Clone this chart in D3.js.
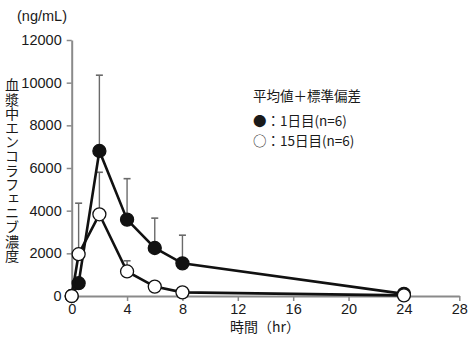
<!DOCTYPE html>
<html><head><meta charset="utf-8">
<script src="https://cdn.jsdelivr.net/npm/d3@7"></script>
<style>
body{margin:0;background:#fff;}
text.lat{font-family:"Liberation Sans",Arial,sans-serif;fill:#1a1a1a;}
text.jp{font-family:"Noto Sans CJK JP",sans-serif;fill:#1a1a1a;}
</style></head><body>
<svg id="chart" width="470" height="347"></svg>
<script>
// Plasma concentration over time (mean + SD)
const times = [0, 0.5, 2, 4, 6, 8, 24];
const day1Mean = [0, 600, 6800, 3580, 2250, 1530, 100];
const day1Upper = [null, null, 10350, 5500, 3650, 2850, null];
const day15Mean = [0, 1960, 3830, 1150, 440, 170, 30];
const day15Upper = [null, 4350, 5800, 1650, null, null, null];
const xTicks = [0, 4, 8, 12, 16, 20, 24, 28];
const yTicks = [0, 2000, 4000, 6000, 8000, 10000, 12000];
const yTitle = "血漿中エンコラフェニブ濃度";
const legendTitle = "平均値＋標準偏差";
const legendLabels = ["●：1日目(n=6)", "○：15日目(n=6)"];

const svg = d3.select("#chart");
const x = d3.scaleLinear().domain([0, 28]).range([71.7, 459.3]);
const y = d3.scaleLinear().domain([0, 12000]).range([296, 40]);
const axisColor = "#8a8a8a";

// axes
const gx = svg.append("g").attr("transform", `translate(0,${y(0)})`)
  .call(d3.axisBottom(x).tickValues(xTicks).tickFormat(d3.format("d"))
    .tickSize(5).tickSizeOuter(0).tickPadding(3));
const gy = svg.append("g").attr("transform", `translate(${x(0)},0)`)
  .call(d3.axisLeft(y).tickValues(yTicks).tickFormat(d3.format("d"))
    .tickSize(5).tickSizeOuter(0).tickPadding(5));
[gx, gy].forEach(g => {
  g.select(".domain").attr("stroke", axisColor).attr("stroke-width", 2);
  g.selectAll(".tick line").attr("stroke", axisColor).attr("stroke-width", 1.5);
  g.selectAll(".tick text").attr("class", "lat").attr("font-size", 14.5);
});

// error bars
function errorBars(upper, mean) {
  const data = times.map((t, i) => ({t, m: mean[i], u: upper[i]})).filter(d => d.u != null);
  const g = svg.append("g").attr("stroke", "#6a6a6a");
  g.selectAll("line.v").data(data).join("line")
    .attr("x1", d => x(d.t)).attr("x2", d => x(d.t))
    .attr("y1", d => y(d.m)).attr("y2", d => y(d.u)).attr("stroke-width", 1.4);
  g.selectAll("line.c").data(data).join("line")
    .attr("x1", d => x(d.t) - 3.5).attr("x2", d => x(d.t) + 3.5)
    .attr("y1", d => y(d.u)).attr("y2", d => y(d.u)).attr("stroke-width", 1.6);
}

function series(mean, fill) {
  const pts = times.map((t, i) => [t, mean[i]]);
  svg.append("path").datum(pts)
    .attr("d", d3.line().x(d => x(d[0])).y(d => y(d[1])))
    .attr("fill", "none").attr("stroke", "#111").attr("stroke-width", 2.6);
  svg.append("g").selectAll("circle").data(pts).join("circle")
    .attr("cx", d => x(d[0])).attr("cy", d => y(d[1])).attr("r", 6.5)
    .attr("fill", fill).attr("stroke", "#111").attr("stroke-width", 1.3);
}

errorBars(day1Upper, day1Mean);
errorBars(day15Upper, day15Mean);
series(day1Mean, "#111");
series(day15Mean, "#fff");

// unit label
svg.append("text").attr("class", "lat").attr("x", 17).attr("y", 21)
  .attr("font-size", 14.5).text("(ng/mL)");

// vertical y-axis title
svg.append("text").attr("class", "jp")
  .attr("x", 12).attr("y", 78)
  .attr("font-size", 14.2)
  .style("writing-mode", "vertical-rl")
  .style("text-orientation", "upright")
  .text(yTitle);

// x-axis title
svg.append("text").attr("class", "jp").attr("x", 265).attr("y", 332)
  .attr("text-anchor", "middle").attr("font-size", 14).text("時間（hr）");

// legend
const lg = svg.append("g");
lg.append("text").attr("class", "jp").attr("x", 253).attr("y", 101)
  .attr("font-size", 13.5).text(legendTitle);
lg.selectAll("text.item").data(legendLabels).join("text")
  .attr("class", "jp item").attr("x", 253).attr("y", (d, i) => 126 + i * 20)
  .attr("font-size", 13.5).text(d => d);
</script>
</body></html>
